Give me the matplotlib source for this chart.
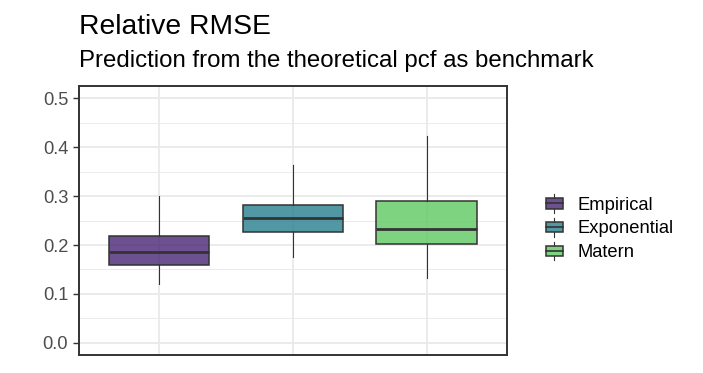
import numpy as np
import matplotlib
matplotlib.use("Agg")
import matplotlib.pyplot as plt
from matplotlib.patches import Rectangle
from matplotlib.lines import Line2D
from matplotlib.legend_handler import HandlerBase
from matplotlib.ticker import MultipleLocator

plt.rcParams['font.family'] = ['Liberation Sans', 'DejaVu Sans']

# box statistics
methods = ['Empirical', 'Exponential', 'Matern']
whislo = [0.121, 0.176, 0.133]
q1 = [0.159, 0.226, 0.202]
med = [0.185, 0.256, 0.232]
q3 = [0.219, 0.281, 0.290]
whishi = [0.301, 0.364, 0.424]

cmap = plt.get_cmap('viridis')
colors = [cmap(v) for v in (0.1, 0.425, 0.75)]
edge = '#333333'

fig = plt.figure(figsize=(7.03, 3.73), dpi=100)
ax = fig.add_axes([0.112, 0.0483, 0.609, 0.7207])

stats = [dict(label=m, whislo=a, q1=b, med=c, q3=d, whishi=e, fliers=[])
         for m, a, b, c, d, e in zip(methods, whislo, q1, med, q3, whishi)]
bp = ax.bxp(stats, positions=[1, 2, 3], widths=0.75, patch_artist=True,
            showcaps=False, zorder=3,
            boxprops=dict(edgecolor=edge, linewidth=1.1),
            medianprops=dict(color=edge, linewidth=2.0),
            whiskerprops=dict(color=edge, linewidth=0.8))
for patch, col in zip(bp['boxes'], colors):
    patch.set_facecolor((*col[:3], 0.8))

ax.set_xlim(0.4, 3.6)
ax.set_ylim(-0.025, 0.525)
ax.yaxis.set_minor_locator(MultipleLocator(0.05))
ax.set_yticks(np.arange(0, 0.51, 0.1))
ax.set_yticklabels([f'{v:.1f}' for v in np.arange(0, 0.51, 0.1)])
ax.set_xticks([1, 2, 3])
ax.set_xticklabels([])
ax.tick_params(axis='x', length=0)
ax.tick_params(axis='y', which='major', length=4.3, width=1.0, color=edge,
               labelsize=13.2, labelcolor='#4D4D4D', pad=3.3)
ax.tick_params(axis='y', which='minor', length=0)
ax.grid(True, which='major', color='#EBEBEB', linewidth=1.4, zorder=0)
ax.grid(True, which='minor', axis='y', color='#EBEBEB', linewidth=0.7, zorder=0)
ax.set_axisbelow(True)
for s in ax.spines.values():
    s.set_color(edge)
    s.set_linewidth(1.4)


class BoxHandler(HandlerBase):
    def create_artists(self, legend, orig_handle, xdescent, ydescent,
                       width, height, fontsize, trans):
        x0, y0 = -xdescent, -ydescent
        bh = height * 0.55
        by = y0 + (height - bh) / 2
        xc = x0 + width / 2
        w1 = Line2D([xc, xc], [y0, by], color=edge, linewidth=0.8)
        w2 = Line2D([xc, xc], [by + bh, y0 + height], color=edge, linewidth=0.8)
        r = Rectangle((x0, by), width, bh, facecolor=orig_handle.get_facecolor(),
                      edgecolor=edge, linewidth=1.1)
        m = Line2D([x0, x0 + width], [by + bh / 2] * 2, color=edge, linewidth=1.2)
        for a in (w1, w2, r, m):
            a.set_transform(trans)
        return [w1, w2, r, m]


handles = [Rectangle((0, 0), 1, 1, facecolor=(*c[:3], 0.8)) for c in colors]
fig.legend(handles, methods, handler_map={Rectangle: BoxHandler()},
           loc='center left', bbox_to_anchor=(0.776, 0.39), frameon=False,
           fontsize=13.2, handlelength=0.96, handleheight=1.2, handletextpad=0.8,
           labelspacing=0.23, borderaxespad=0, borderpad=0)

fig.text(0.112, 0.909, 'Relative RMSE', fontsize=20.3, va='baseline', ha='left')
fig.text(0.112, 0.821, 'Prediction from the theoretical pcf as benchmark',
         fontsize=17.3, va='baseline', ha='left')

fig.savefig('out.png', dpi=100)
